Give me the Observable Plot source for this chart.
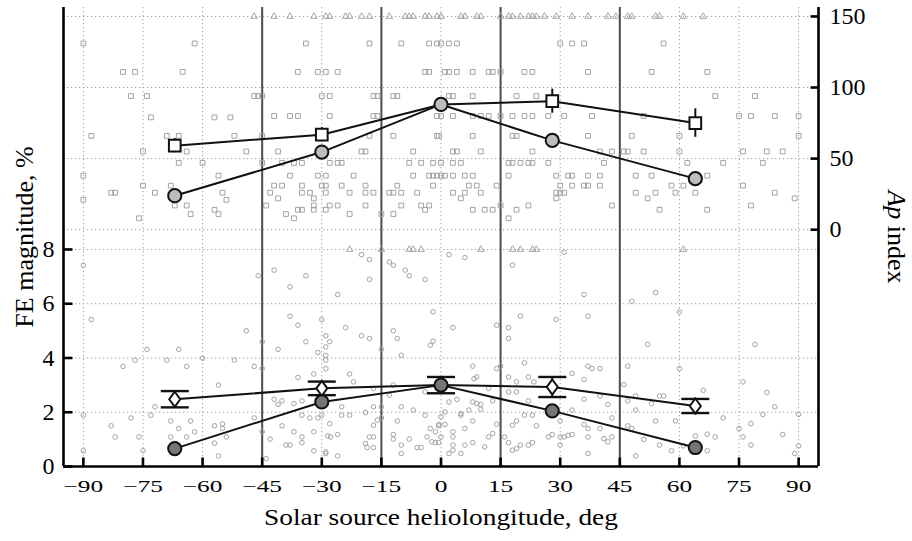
<!DOCTYPE html>
<html><head><meta charset="utf-8">
<script src="https://cdn.jsdelivr.net/npm/d3@7"></script>
<script src="https://cdn.jsdelivr.net/npm/@observablehq/plot@0.6"></script>
<style>
html,body{margin:0;padding:0;background:#fff;}
#chart svg, #chart svg text, #chart svg tspan { font-family: "Liberation Serif", "Times New Roman", serif !important; }
</style>
</head><body><div id="chart"></div>
<script>
// ---------- data ----------
const xTicks = [-90, -75, -60, -45, -30, -15, 0, 15, 30, 45, 60, 75, 90];
const sectorBounds = [-45, -15, 15, 45];
const feTicks = [0, 2, 4, 6, 8];
const feGrid = [2, 4, 6, 8];
const apTicks = [0, 50, 100, 150];

const binCenters = [-67, -30, 0, 28, 64];
const apMean = [59.1, 66.8, 88.1, 90.4, 75.0];
const apMeanErr = [5, 5, 3, 8.5, 10];
const apMedian = [23.9, 54.6, 88.1, 62.8, 35.9];
const feMean = [2.48, 2.88, 3.0, 2.93, 2.23];
const feMeanErr = [0.3, 0.25, 0.3, 0.37, 0.26];
const feMedian = [0.66, 2.38, 3.0, 2.05, 0.70];

// individual events: Ap index (squares)
const apScatterWest = [
  [-90,131],[-62,131],[-80,111],[-77,111],[-65,111],[-78,94],[-74,94],[-47,94],[-73,79],[-57,79],[-53,79],
  [-88,66],[-69,66],[-66,66],[-52,66],[-75,55],[-64,55],[-49,55],[-66,47],[-60,47],[-90,38],[-56,38],
  [-75,31],[-68,31],[-83,26],[-82,26],[-72,26],[-55,26],[-90,21],[-54,21],[-67,17],[-64,17],[-57,14],
  [-56,11],[-63,11],[-76,8],
  [-34,131],[-18,131],[-10,131],[-3,131],[-1,131],
  [-36,111],[-31,111],[-29,111],[-26,111],[-4,111],[-3,111],
  [-46,94],[-45,94],[-30,94],[-28,94],[-17,94],[-16,94],[-12,94],[-11,94],
  [-42,80],[-38,80],[-36,80],[-28,80],[-17,80],[-16,80],[-1,80],
  [-45,66],[-18,66],[-12,66],[-1,66],
  [-41,55],[-20,55],[-19,55],[-7,55],
  [-45,47],[-40,47],[-37,47],[-35,47],[-28,47],[-26,47],[-25,47],[-8,47],[-5,47],[-2,47],
  [-38,38],[-31,38],[-29,38],[-22,38],[-7,38],[-3,38],[-2,38],[-1,38],
  [-42,31],[-40,31],[-35,31],[-30,31],[-29,31],[-25,31],[-19,31],[-11,31],[-2,31],
  [-43,26],[-35,26],[-33,26],[-29,26],[-23,26],[-19,26],[-17,26],[-13,26],[-12,26],[-10,26],[-6,26],
  [-41,22],[-32,22],
  [-44,17],[-32,17],[-28,17],[-26,17],[-19,17],[-10,17],[-5,17],[-3,17],
  [-36,14],[-35,14],[-32,14],[-29,14],[-4,14],
  [-39,11],[-23,11],[-15,11],[-12,11],[-37,8]
];
const apScatterEast = [
  [0,131],[2,131],[4,131],[30,131],[33,131],[36,131],
  [1,111],[2,111],[4,111],[8,111],[12,111],[13,111],[15,111],[21,111],[23,111],[37,111],
  [2,94],[3,94],[8,94],[19,94],[24,94],
  [0,80],[3,80],[8,80],[10,80],[12,80],[15,80],[18,80],[21,80],[23,80],[27,80],[31,80],[38,80],
  [-0.5,66],[8,66],[18,66],[19,66],[37,66],
  [3,55],[4,55],[10,55],[23,55],[40,55],[43,55],[46,55],
  [0,47],[3,47],[5,47],[17,47],[18,47],[20,47],[22,47],[23,47],[27,47],[41,47],
  [0,38],[1,38],[3,38],[6,38],[8,38],[17,38],[29,38],[32,38],[33,38],[37,38],[40,38],
  [7,31],[9,31],[14,31],[30,31],[33,31],[36,31],[37,31],[40,31],
  [3,26],[6,26],[10,26],[29,26],[30,26],[31,26],
  [5,22],[29,22],[15,17],[22,17],[43,17],[8,14],[11,14],[13,14],[19,14],[17,8],
  [56,131],[53,111],[67,111],[69,94],[79,94],
  [51,80],[75,80],[78,80],[84,80],[90,80],
  [48,66],[60,66],[90,66],
  [47,55],[51,55],[60,55],[76,55],[82,55],[86,55],
  [62,47],[71,47],[81,47],
  [49,38],[53,38],[67,38],
  [58,31],[61,31],[76,31],
  [49,26],[54,26],[59,26],[64,26],[84,26],
  [52,22],[89,22],[78,17],[55,14],[67,14]
];
// events with Ap > 150 (drawn on the 150 line)
const apOverflowX = [-47,-42,-38,-32,-29,-28,-24,-23,-20,-18,-13,-9,-8,-7,-4,-3,-1,0,5,6,9,10,15,17,18,20,22,23,24,26,29,33,37,42,44,47,48,54,55,61,66];

// individual events: FE magnitude (circles)
const feScatterWest = [
  [-90,7.42],[-88,5.42],[-49,5.0],[-74,4.32],[-66,4.32],[-77,3.92],[-69,3.92],[-60,3.99],[-52,3.92],
  [-80,3.69],[-64,3.69],[-47,3.69],[-56,3.0],[-72,2.2],[-90,1.89],[-73,1.89],[-78,1.79],[-68,1.68],
  [-63,1.68],[-47,1.79],[-83,1.5],[-66,1.4],[-57,1.5],[-55,1.57],[-55,1.4],[-62,1.28],[-82,1.09],
  [-76,1.09],[-68,1.09],[-64,1.09],[-54,1.09],[-57,0.86],[-90,0.58],[-75,0.58],[-56,0.39],
  [-20,7.81],[-18,7.63],[-13,7.54],[-12,7.42],[-42,7.24],[-9,7.24],[-8,7.03],[-46,7.03],[-34,7.03],
  [-18,6.9],[-4,6.9],[-38,6.62],[-26,6.34],[-2,5.7],[-38,5.54],[-30,5.42],[-36,5.21],[-24,5.12],
  [-12,5.0],[-20,4.82],[-18,4.72],[-29,4.82],[-11,4.72],[-34,4.6],[-45,4.6],[-28,4.6],[-29,4.41],
  [-2,4.62],[-2.7,4.47],[-41,4.32],[-31,4.2],[-29,4.1],[-29,3.92],[-15,4.32],[-10,4.1],[-45,3.61],
  [-29,3.61],[-32,3.41],[-23,3.41],[-36,3.28],[-22,3.12],[-12,3.0],[-17,2.88],[-13,2.63],[-4,2.75],
  [-42,2.48],[-41,2.29],[-40,2.42],[-37,2.32],[-35,2.42],[-25,2.2],[-17,2.2],[-15,2.2],[-10,2.2],
  [-7,2.08],[-35,1.89],[-33,1.79],[-31,1.79],[-30,1.89],[-25,1.89],[-23,1.89],[-19,1.99],[-4,1.89],
  [-16,1.71],[-15,1.79],[-11,1.68],[-28,1.58],[-17,1.52],[-40,1.5],[-2.7,1.4],[-1.4,1.28],[-0.6,1.5],
  [-45,1.28],[-37,1.28],[-32,1.28],[-12,1.18],[-12,1.01],[-28.5,1.13],[-27.8,1.09],[-26,1.18],
  [-35,1.09],[-35,0.88],[-18,1.09],[-17,1.09],[-43,1.01],[-8,1.01],[-3.5,1.09],[-2.3,0.91],
  [-1.4,0.88],[-0.6,0.88],[-39,0.79],[-38,0.79],[-19,0.85],[-18.6,0.7],[-17,0.7],[-10,0.79],
  [-6,0.7],[-5,0.7],[-32,0.58],[-29,0.54],[-29,0.48],[-26,0.39],[-10,0.48],[-44,0.29]
];
const feScatterEast = [
  [2,7.81],[6,7.7],[18,7.42],[31,7.9],[36,6.34],[37,5.54],[20,5.54],[29,5.42],[3,5.12],[14,5.21],
  [17,5.12],[17,4.72],[21,3.82],[8,3.7],[14,3.61],[15,3.7],[33,3.43],[37,3.7],[38,3.61],[40,3.61],
  [8.3,3.24],[9,3.3],[17,3.3],[19,3.12],[22,3.3],[23.4,3.12],[36,3.21],[12,2.88],[17,2.75],[19,2.75],
  [2,2.38],[4,2.47],[8,2.38],[9,2.32],[10,2.29],[13,2.42],[22,2.42],[36,2.48],[40,2.6],[42,2.29],
  [33,2.08],[1,2.01],[5,1.95],[7,2.08],[10,2.11],[0,1.83],[5,1.89],[21,1.89],[23,1.89],[19,1.68],
  [18,1.52],[8,1.68],[14,1.56],[24,1.5],[-0.5,1.55],[1,1.55],[30,1.68],[43,1.79],[36,1.55],[37,1.4],
  [40,1.4],[3,1.28],[0,1.09],[6,1.4],[3,1.09],[12,1.09],[13,1.22],[16,1.09],[27,1.09],[28,1.18],
  [30,1.09],[31,1.09],[32,1.15],[33,1.18],[37,1.09],[41,1.03],[42,0.91],[43,1.09],[8,0.88],[6,0.79],
  [3,0.79],[3,0.6],[11,0.72],[17,0.88],[18,0.6],[19,0.66],[20,0.79],[22,0.79],[23,0.88],[30,0.79],
  [2,0.48],[5,0.48],[37,0.48],
  [54,6.41],[48,6.09],[60,5.7],[52,4.5],[79,4.5],[47,3.7],[60,3.61],[76,3.12],[46,3.02],[66,2.81],
  [82,2.73],[49,2.6],[55,2.6],[56,2.6],[47,2.42],[53,2.32],[84,2.2],[49,2.08],[71,1.79],[81,1.92],
  [90,1.92],[54,1.68],[59,1.68],[47,1.5],[48,1.4],[78,1.58],[75,1.4],[76,1.09],[51,1.0],[64,1.12],
  [67,1.19],[69,1.09],[86,1.18],[55,0.79],[58,0.58],[61,0.76],[67,0.58],[78,0.79],[90,0.76],
  [89,0.48],[49,0.39]
];
// events with FE > 8 % (drawn on the 8 line)
const feOverflowX = [-23, -15, -8, -7, -5, 10, 18, 20, 23, 24, 61];

// axis titles
const xTitle = "Solar source heliolongitude, deg";
const yLeftTitle = "FE magnitude, %";
const yRightTitle = "Ap index";

// ---------- dual-axis mapping (Ap panel stacked above FE panel) ----------
const AP_BASE = 8.73, AP_K = 0.0524, Y_TOP = 16.92;
const X_MIN = -95, X_MAX = 95;
const apY = a => AP_BASE + AP_K * a;
const apCap = 150, feCap = 8;

const apScatter = apScatterWest.concat(apScatterEast);
const feScatter = feScatterWest.concat(feScatterEast);
const apMeanRows = binCenters.map((x, i) => ({x, y: apY(apMean[i]), lo: apY(apMean[i] - apMeanErr[i]), hi: apY(apMean[i] + apMeanErr[i]), hidden: Math.abs(apMean[i] - apMedian[i]) < 2}));
const apMedRows = binCenters.map((x, i) => ({x, y: apY(apMedian[i])}));
const feMeanRows = binCenters.map((x, i) => ({x, y: feMean[i], lo: feMean[i] - feMeanErr[i], hi: feMean[i] + feMeanErr[i], hidden: Math.abs(feMean[i] - feMedian[i]) < 0.1}));
const feMedRows = binCenters.map((x, i) => ({x, y: feMedian[i]}));

// custom marker shapes
const capSymbol = {draw(ctx) { ctx.moveTo(-14, 0); ctx.lineTo(14, 0); }};
const diamondSymbol = {draw(ctx) { ctx.moveTo(0, -7.5); ctx.lineTo(5.5, 0); ctx.lineTo(0, 7.5); ctx.lineTo(-5.5, 0); ctx.closePath(); }};
const tickUp = {draw(ctx) { ctx.moveTo(0, 0); ctx.lineTo(0, -9); }};
const tickRight = {draw(ctx) { ctx.moveTo(0, 0); ctx.lineTo(9, 0); }};
const tickLeft = {draw(ctx) { ctx.moveTo(0, 0); ctx.lineTo(-8, 0); }};

const gridStyle = {stroke: "#a0a0a0", strokeWidth: 1, strokeDasharray: "1.3,2.7"};
const ptColor = "#a3a3a3";
const AXW = 2.6;

const chart = Plot.plot({
  width: 912, height: 541,
  marginTop: 7, marginRight: 94, marginBottom: 75, marginLeft: 63,
  style: {background: "white", color: "black"},
  x: {domain: [X_MIN, X_MAX]},
  y: {domain: [0, Y_TOP]},
  marks: [
    Plot.ruleX(xTicks, gridStyle),
    Plot.ruleY(feGrid.concat(apTicks.map(apY)), gridStyle),
    Plot.ruleX(sectorBounds, {stroke: "#4d4d4d", strokeWidth: 2}),
    // individual events
    Plot.dot(feScatter, {x: d => d[0], y: d => d[1], r: 2.3, stroke: ptColor, fill: "none", strokeWidth: 1}),
    Plot.dot(feOverflowX, {x: d => d, y: () => feCap, symbol: "triangle", r: 2.4, stroke: ptColor, fill: "none", strokeWidth: 1}),
    Plot.dot(apScatter, {x: d => d[0], y: d => apY(d[1]), symbol: "square", r: 2.7, stroke: ptColor, fill: "none", strokeWidth: 1}),
    Plot.dot(apOverflowX, {x: d => d, y: () => apY(apCap), symbol: "triangle", r: 2.4, stroke: ptColor, fill: "none", strokeWidth: 1}),
    // frame / axes lines and inward ticks
    Plot.ruleX([X_MIN, X_MAX], {stroke: "black", strokeWidth: AXW}),
    Plot.ruleY([0], {stroke: "black", strokeWidth: AXW}),
    Plot.dot(xTicks, {x: d => d, y: () => 0, symbol: tickUp, stroke: "black", strokeWidth: AXW}),
    Plot.dot(feTicks, {x: () => X_MIN, y: d => d, symbol: tickRight, stroke: "black", strokeWidth: AXW}),
    Plot.dot(apTicks, {x: () => X_MAX, y: d => apY(d), symbol: tickLeft, stroke: "black", strokeWidth: AXW}),
    Plot.axisX(xTicks, {anchor: "bottom", tickSize: 0, tickPadding: 13, fontSize: 17.5, label: null}),
    Plot.axisY(feTicks, {anchor: "left", tickSize: 0, tickPadding: 9, fontSize: 24, label: null}),
    Plot.axisY(apTicks.map(apY), {anchor: "right", tickSize: 0, tickPadding: 11, fontSize: 24, label: null,
      tickFormat: d => String(Math.round((d - AP_BASE) / AP_K))}),
    // titles
    Plot.text([xTitle], {text: d => d, frameAnchor: "bottom", textAnchor: "middle", dy: 58, fontSize: 24}),
    Plot.text([yLeftTitle], {text: d => d, frameAnchor: "left", textAnchor: "middle", dx: -39, rotate: -90, fontSize: 26}),
    Plot.text([yRightTitle], {text: d => d, frameAnchor: "right", textAnchor: "middle", dx: 78, rotate: 90, fontSize: 26}),
    // summary curves: Ap
    Plot.line(apMeanRows, {x: "x", y: "y", stroke: "#111", strokeWidth: 2}),
    Plot.line(apMedRows, {x: "x", y: "y", stroke: "#111", strokeWidth: 2}),
    Plot.ruleX(apMeanRows, {x: "x", y1: "lo", y2: "hi", stroke: "#111", strokeWidth: 2}),
    Plot.dot(apMeanRows.filter(d => !d.hidden), {x: "x", y: "y", symbol: "square", r: 6.6, fill: "white", stroke: "#111", strokeWidth: 2}),
    Plot.dot(apMedRows, {x: "x", y: "y", r: 6.6, fill: "#bdbdbd", stroke: "#111", strokeWidth: 2}),
    // summary curves: FE
    Plot.line(feMeanRows, {x: "x", y: "y", stroke: "#111", strokeWidth: 2}),
    Plot.line(feMedRows, {x: "x", y: "y", stroke: "#111", strokeWidth: 2}),
    Plot.ruleX(feMeanRows, {x: "x", y1: "lo", y2: "hi", stroke: "#111", strokeWidth: 2}),
    Plot.dot(feMeanRows, {x: "x", y: "lo", symbol: capSymbol, stroke: "#111", strokeWidth: 2.4}),
    Plot.dot(feMeanRows, {x: "x", y: "hi", symbol: capSymbol, stroke: "#111", strokeWidth: 2.4}),
    Plot.dot(feMeanRows.filter(d => !d.hidden), {x: "x", y: "y", symbol: diamondSymbol, fill: "white", stroke: "#111", strokeWidth: 2}),
    Plot.dot(feMedRows, {x: "x", y: "y", r: 6.6, fill: "#767676", stroke: "#111", strokeWidth: 2})
  ]
});

// typographic adjustments of the reference (wide x labels, italic Ap)
chart.setAttribute("font-family", "Liberation Serif, Times New Roman, serif");
const xTickStrings = new Set(xTicks.map(d => d3.format("d")(d)));
chart.querySelectorAll("text").forEach(t => {
  const s = t.textContent;
  const tr = t.getAttribute("transform");
  if (s === xTitle && tr) {
    t.setAttribute("transform", tr + " scale(1.14,1)");
  } else if (s === yRightTitle) {
    const sel = d3.select(t);
    sel.text(null);
    sel.append("tspan").attr("font-style", "italic").text("Ap");
    sel.append("tspan").text(" index");
  }
});
chart.querySelectorAll('g[aria-label="x-axis tick label"] text').forEach(t => {
  t.setAttribute("transform", (t.getAttribute("transform") || "") + " scale(1.45,1)");
});
document.getElementById("chart").appendChild(chart);
</script>
</body></html>
